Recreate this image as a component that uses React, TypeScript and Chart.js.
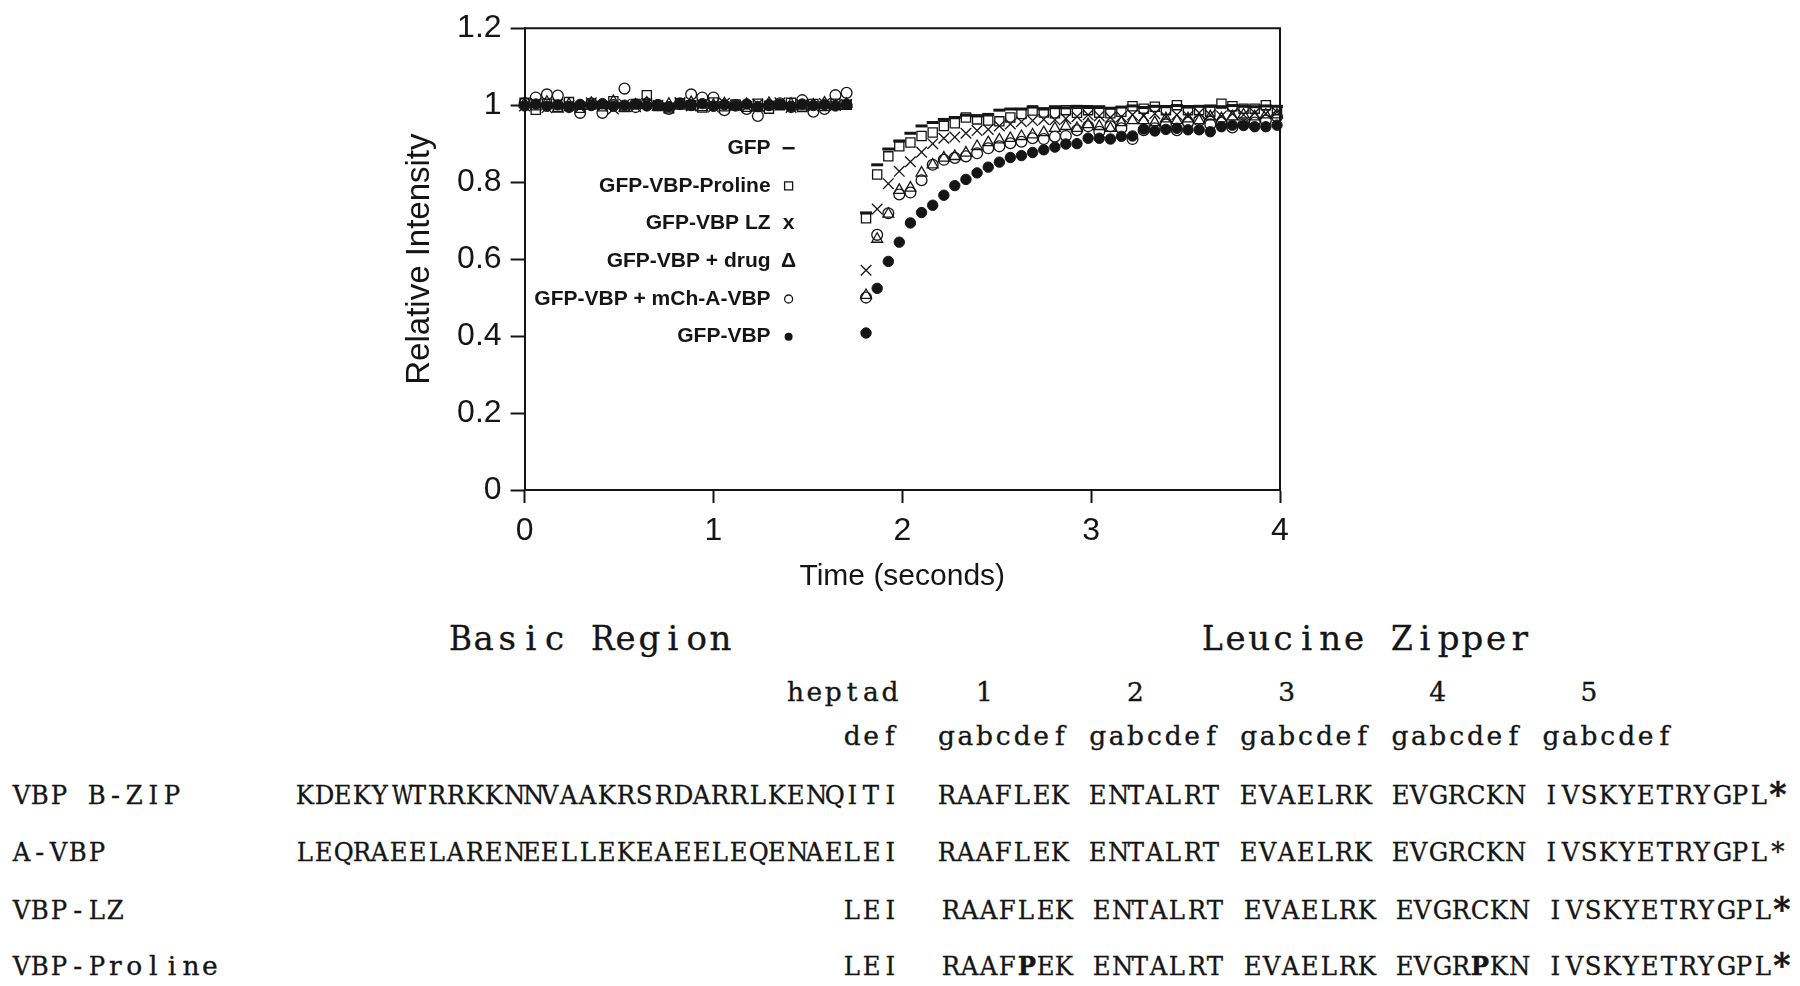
import React, { useEffect, useRef } from 'react';
import { Chart, registerables } from 'chart.js';

Chart.register(...registerables);

// ---------- chart data ----------
const timeSeconds = [
  0, 0.059, 0.118, 0.176, 0.235, 0.294, 0.353, 0.412, 0.47, 0.529, 0.588, 0.647, 0.706, 0.764, 0.823,
  0.882, 0.941, 1.0, 1.058, 1.117, 1.176, 1.235, 1.294, 1.352, 1.411, 1.47, 1.529, 1.588, 1.646, 1.705,
  1.808, 1.867, 1.926, 1.984, 2.043, 2.102, 2.161, 2.22, 2.278, 2.337, 2.396, 2.455, 2.514, 2.572, 2.631,
  2.69, 2.749, 2.808, 2.866, 2.925, 2.984, 3.043, 3.102, 3.16, 3.219, 3.278, 3.337, 3.396, 3.454, 3.513,
  3.572, 3.631, 3.69, 3.748, 3.807, 3.866, 3.925, 3.984,
];

const gfp = [
  1.0, 0.998, 1.003, 0.997, 1.002, 0.999, 1.001, 0.996, 1.003, 1.0, 0.998, 1.002, 1.004, 0.999, 0.997,
  1.001, 1.003, 0.998, 1.0, 1.002, 0.997, 1.001, 0.999, 1.003, 0.998, 1.0, 1.002, 0.999, 1.001, 1.0,
  0.72, 0.845, 0.886, 0.907, 0.927, 0.946, 0.955, 0.963, 0.968, 0.974, 0.972, 0.976, 0.987, 0.99, 0.99,
  0.995, 0.99, 0.996, 0.993, 0.997, 0.994, 0.996, 0.992, 0.995, 0.998, 0.994, 0.997, 0.996, 0.999, 0.995,
  0.997, 0.998, 0.996, 0.999, 0.997, 0.996, 0.998, 0.997,
];

const gfpVbpProline = [
  1.006, 0.988, 1.004, 0.996, 1.008, 0.993, 1.002, 0.997, 1.01, 0.995, 1.003, 1.026, 0.998, 0.992, 1.005,
  1.0, 0.994, 1.007, 0.997, 1.002, 0.996, 1.004, 0.991, 1.0, 1.006, 0.995, 1.003, 0.998, 1.004, 1.001,
  0.706, 0.82, 0.867, 0.893, 0.903, 0.92, 0.929, 0.946, 0.953, 0.968, 0.963, 0.96, 0.958, 0.968, 0.977,
  0.986, 0.981, 0.979, 0.987, 0.98, 0.987, 0.98, 0.979, 0.983, 0.997, 0.991, 0.996, 0.987, 1.0, 0.987,
  0.987, 0.983, 1.004, 0.997, 0.991, 0.991, 1.0, 0.987,
];

const gfpVbpLz = [
  0.998, 1.005, 0.993, 1.003, 0.999, 0.994, 1.006, 0.997, 0.99, 1.002, 0.996, 1.004, 1.0, 0.993, 1.007,
  0.998, 1.002, 0.995, 1.005, 0.999, 0.996, 1.003, 0.998, 1.006, 0.994, 1.001, 0.997, 1.004, 0.999, 1.002,
  0.571, 0.73, 0.796, 0.828, 0.853, 0.878, 0.9, 0.914, 0.917, 0.927, 0.934, 0.937, 0.946, 0.951, 0.957,
  0.96, 0.963, 0.962, 0.965, 0.97, 0.975, 0.972, 0.968, 0.97, 0.975, 0.972, 0.978, 0.97, 0.975, 0.972,
  0.98, 0.975, 0.972, 0.978, 0.975, 0.98, 0.978, 0.982,
];

const gfpVbpDrug = [
  1.004, 0.996, 1.008, 0.99, 1.002, 0.997, 1.005, 0.999, 1.01, 0.993, 1.001, 1.006, 0.995, 1.003, 0.998,
  1.007, 0.994, 1.0, 1.004, 0.996, 1.002, 0.993, 1.005, 0.999, 1.003, 0.996, 1.001, 1.006, 0.997, 1.003,
  0.506, 0.652, 0.717, 0.779, 0.785, 0.824, 0.845, 0.863, 0.867, 0.876, 0.893, 0.903, 0.91, 0.914, 0.919,
  0.923, 0.929, 0.94, 0.945, 0.94, 0.95, 0.945, 0.94, 0.955, 0.96, 0.96, 0.955, 0.965, 0.96, 0.965,
  0.96, 0.97, 0.965, 0.97, 0.975, 0.97, 0.975, 0.975,
];

const gfpVbpMchAVbp = [
  1.005, 1.02, 1.028, 1.025, 0.995, 0.98, 1.005, 0.98, 1.0, 1.043, 0.995, 1.005, 1.0, 0.99, 1.005,
  1.028, 1.02, 1.02, 0.987, 1.0, 0.99, 0.972, 1.0, 1.005, 0.995, 1.013, 0.983, 0.99, 1.026, 1.032,
  0.5, 0.663, 0.719, 0.768, 0.773, 0.805, 0.845, 0.858, 0.863, 0.867, 0.875, 0.888, 0.893, 0.901, 0.905,
  0.914, 0.912, 0.918, 0.92, 0.935, 0.945, 0.931, 0.945, 0.94, 0.912, 0.935, 0.94, 0.95, 0.935, 0.955,
  0.96, 0.95, 0.955, 0.942, 0.95, 0.955, 0.96, 0.97,
];

const gfpVbp = [
  0.998, 1.003, 0.997, 1.001, 0.996, 1.002, 0.999, 1.004, 0.997, 1.0, 1.003, 0.998, 1.001, 0.996, 1.002,
  0.999, 1.004, 0.997, 1.001, 0.998, 1.003, 0.996, 1.0, 1.002, 0.997, 1.003, 0.999, 1.001, 0.998, 1.002,
  0.408, 0.524, 0.594, 0.644, 0.694, 0.721, 0.74, 0.766, 0.791, 0.807, 0.824, 0.839, 0.852, 0.864, 0.869,
  0.877, 0.884, 0.891, 0.899, 0.9, 0.914, 0.914, 0.912, 0.919, 0.92, 0.938, 0.933, 0.937, 0.94, 0.936,
  0.936, 0.931, 0.944, 0.948, 0.947, 0.944, 0.944, 0.948,
];

const seriesLabels = [
  'GFP',
  'GFP-VBP-Proline',
  'GFP-VBP LZ',
  'GFP-VBP + drug',
  'GFP-VBP + mCh-A-VBP',
  'GFP-VBP',
];
const legendGlyphs = ['—', '□', 'x', 'Δ', '○', '●'];

const xTickLabels = ['0', '1', '2', '3', '4'];
const yTickLabels = ['0', '0.2', '0.4', '0.6', '0.8', '1', '1.2'];
const xAxisTitle = 'Time (seconds)';
const yAxisTitle = 'Relative Intensity';

// ---------- sequence table data ----------
const regionTitles = ['Basic Region', 'Leucine Zipper'];
const heptadNumbers = ['1', '2', '3', '4', '5'];
const heptadPositions = 'gabcdef';
const rowLabels = ['VBP B-ZIP', 'A-VBP', 'VBP-LZ', 'VBP-Proline'];
const basicSequences = [
  'KDEKYWTRRKKNNVAAKRSRDARRLKENQITI',
  'LEQRAEELARENEELLEKEAEELEQENAELEI',
  'LEI',
  'LEI',
];
const zipperSequences = [
  ['RAAFLEK', 'ENTALRT', 'EVAELRK', 'EVGRCKN', 'IVSKYETRYGPL*'],
  ['RAAFLEK', 'ENTALRT', 'EVAELRK', 'EVGRCKN', 'IVSKYETRYGPL*'],
  ['RAAFLEK', 'ENTALRT', 'EVAELRK', 'EVGRCKN', 'IVSKYETRYGPL*'],
  ['RAAFPEK', 'ENTALRT', 'EVAELRK', 'EVGRPKN', 'IVSKYETRYGPL*'],
];
const boldResidues = [[44], [], [44], [4, 28, 44]];

// ---------- chart ----------
const SANS = '"Liberation Sans", Arial, Helvetica, sans-serif';
const SERIF = '"DejaVu Serif", "Liberation Serif", serif';
const INK = '#151515';

const pts = (ys: number[]) => timeSeconds.map((t, i) => ({ x: t, y: ys[i] }));

const framePlugin = {
  id: 'frame',
  afterDraw(chart: any) {
    const { ctx, chartArea } = chart;
    ctx.save();
    ctx.strokeStyle = INK;
    ctx.lineWidth = 2;
    ctx.beginPath();
    ctx.moveTo(chartArea.left, chartArea.top);
    ctx.lineTo(chartArea.right, chartArea.top);
    ctx.lineTo(chartArea.right, chartArea.bottom);
    ctx.stroke();
    ctx.restore();
  },
};

const legendPlugin = {
  id: 'inlineLegend',
  afterDraw(chart: any) {
    const { ctx, chartArea } = chart;
    const xText = chartArea.left + 246;
    const xSym = xText + 18;
    ctx.save();
    ctx.font = `bold 21px ${SANS}`;
    ctx.fillStyle = INK;
    ctx.strokeStyle = INK;
    ctx.textBaseline = 'middle';
    seriesLabels.forEach((label, i) => {
      const y = chartArea.top + 120 + i * 37.7;
      ctx.textAlign = 'right';
      ctx.fillText(label, xText, y);
      const g = legendGlyphs[i];
      ctx.lineWidth = 1.3;
      if (g === '—') {
        ctx.lineWidth = 2.5;
        ctx.beginPath();
        ctx.moveTo(xSym - 6, y);
        ctx.lineTo(xSym + 6, y);
        ctx.stroke();
      } else if (g === '□') {
        ctx.strokeRect(xSym - 4, y - 4, 8, 8);
      } else if (g === '○') {
        ctx.beginPath();
        ctx.arc(xSym, y, 4, 0, Math.PI * 2);
        ctx.stroke();
      } else if (g === '●') {
        ctx.beginPath();
        ctx.arc(xSym, y, 4, 0, Math.PI * 2);
        ctx.fill();
      } else {
        ctx.textAlign = 'center';
        ctx.fillText(g, xSym, y);
      }
    });
    ctx.restore();
  },
};

function ChartPanel() {
  const ref = useRef<HTMLCanvasElement | null>(null);
  useEffect(() => {
    if (!ref.current) return;
    const open = 'rgba(0,0,0,0)';
    const chart = new Chart(ref.current, {
      type: 'scatter',
      data: {
        datasets: [
          { label: seriesLabels[0], data: pts(gfp), pointStyle: 'line', pointRadius: 6, borderWidth: 3, borderColor: INK, backgroundColor: INK, order: 1 },
          { label: seriesLabels[1], data: pts(gfpVbpProline), pointStyle: 'rect', pointRadius: 6.5, borderWidth: 1.3, borderColor: INK, backgroundColor: open, order: 2 },
          { label: seriesLabels[2], data: pts(gfpVbpLz), pointStyle: 'crossRot', pointRadius: 7.5, borderWidth: 1.3, borderColor: INK, backgroundColor: INK, order: 3 },
          { label: seriesLabels[3], data: pts(gfpVbpDrug), pointStyle: 'triangle', pointRadius: 6.3, borderWidth: 1.3, borderColor: INK, backgroundColor: open, order: 4 },
          { label: seriesLabels[4], data: pts(gfpVbpMchAVbp), pointStyle: 'circle', pointRadius: 5.4, borderWidth: 1.3, borderColor: INK, backgroundColor: open, order: 5 },
          { label: seriesLabels[5], data: pts(gfpVbp), pointStyle: 'circle', pointRadius: 5.2, borderWidth: 1, borderColor: INK, backgroundColor: INK, order: 0 },
        ] as any,
      },
      options: {
        responsive: false,
        devicePixelRatio: 1,
        animation: false,
        events: [],
        clip: false as any,
        layout: { padding: { left: 400, top: 24, right: 520, bottom: 0 } },
        plugins: { legend: { display: false }, tooltip: { enabled: false }, title: { display: false } },
        elements: { point: { hoverRadius: 0 } },
        scales: {
          x: {
            type: 'linear',
            min: 0,
            max: 4,
            ticks: {
              stepSize: 1,
              padding: 9,
              color: INK,
              font: { family: SANS, size: 32 },
              callback: (v: any) => xTickLabels.find((l) => Math.abs(parseFloat(l) - Number(v)) < 1e-6) ?? '',
            },
            grid: { drawOnChartArea: false, drawTicks: true, tickLength: 13, tickWidth: 2, tickColor: INK, color: INK },
            border: { display: true, color: INK, width: 2 },
            title: { display: true, text: xAxisTitle, color: INK, font: { family: SANS, size: 30 }, padding: { top: 0, bottom: 5 } },
            afterFit: (s: any) => { s.height = 110; },
          },
          y: {
            type: 'linear',
            min: 0,
            max: 1.2,
            ticks: {
              stepSize: 0.2,
              padding: 9,
              color: INK,
              font: { family: SANS, size: 32 },
              callback: (v: any) => yTickLabels.find((l) => Math.abs(parseFloat(l) - Number(v)) < 1e-6) ?? '',
            },
            grid: { drawOnChartArea: false, drawTicks: true, tickLength: 14, tickWidth: 2, tickColor: INK, color: INK },
            border: { display: true, color: INK, width: 2 },
            title: { display: true, text: yAxisTitle, color: INK, font: { family: SANS, size: 33 }, padding: { top: 0, bottom: 0 } },
            afterFit: (s: any) => { s.width = 124.6; },
          },
        },
      } as any,
      plugins: [framePlugin, legendPlugin],
    });
    return () => chart.destroy();
  }, []);
  return (
    <canvas
      ref={ref}
      width={1800}
      height={600}
      style={{ position: 'absolute', left: 0, top: 0, width: 1800, height: 600 }}
    />
  );
}

// ---------- sequence table (Courier-like fixed cells) ----------
const CELL = 18.9;
const BODY_SIZE = 26.5;
const TITLE_CELL = 23.7;
const TITLE_SIZE = 34;

function Cells(props: { text: string; cell: number; bold?: number[] }) {
  const { text, cell, bold = [] } = props;
  return (
    <>
      {Array.from(text).map((ch, i) => {
        const isBold = bold.includes(i);
        const upper = ch >= 'A' && ch <= 'Z';
        const squeeze = upper ? (ch === 'W' || ch === 'M' ? 0.78 : 0.92) : 1;
        return (
          <span
            key={i}
            style={{ display: 'inline-block', width: cell, textAlign: 'center', fontWeight: isBold ? 'bold' : 'normal' }}
          >
            <span
              style={{
                display: 'inline-block',
                transform: `scaleX(${squeeze})${ch === '*' && isBold ? ' scale(1.25)' : ''}`,
                transformOrigin: '50% 50%',
              }}
            >
              {ch === ' ' ? '\u00a0' : ch}
            </span>
          </span>
        );
      })}
    </>
  );
}

function Line(props: { left: number; cy: number; size: number; children: React.ReactNode }) {
  const { left, cy, size, children } = props;
  return (
    <div
      style={{
        position: 'absolute',
        left,
        top: cy - size * 0.6,
        fontFamily: SERIF,
        fontSize: size,
        lineHeight: `${size * 1.2}px`,
        whiteSpace: 'pre',
        color: INK,
        WebkitTextStroke: `0.35px ${INK}`,
      }}
    >
      {children}
    </div>
  );
}

function SequenceTable() {
  const left = 11.5;
  const heptadLine =
    ' '.repeat(41) + 'heptad' + heptadNumbers.map((n) => ' '.repeat(n === '1' ? 4 : 7) + n).join('');
  const defLine = ' '.repeat(44) + 'def  ' + heptadNumbers.map(() => heptadPositions).join(' ');
  const rowYs = [794.5, 852, 909.5, 966];
  const zipperShift = [0, 0, 4, 4];
  return (
    <>
      <Line left={448} cy={638} size={TITLE_SIZE}><Cells text={regionTitles[0]} cell={TITLE_CELL} /></Line>
      <Line left={1200} cy={638} size={TITLE_SIZE}><Cells text={regionTitles[1]} cell={TITLE_CELL} /></Line>
      <Line left={left} cy={692} size={BODY_SIZE}><Cells text={heptadLine} cell={CELL} /></Line>
      <Line left={left} cy={736} size={BODY_SIZE}><Cells text={defLine} cell={CELL} /></Line>
      {rowLabels.map((label, i) => {
        const head = label.padEnd(15) + basicSequences[i].padStart(32) + '  ';
        return (
          <Line key={label} left={left} cy={rowYs[i]} size={BODY_SIZE}>
            <Cells text={head} cell={CELL} />
            <span style={{ display: 'inline-block', marginLeft: zipperShift[i] }}>
              <Cells text={zipperSequences[i].join(' ')} cell={CELL} bold={boldResidues[i]} />
            </span>
          </Line>
        );
      })}
    </>
  );
}

export default function App() {
  return (
    <div
      style={{
        position: 'fixed',
        left: 0,
        top: 0,
        width: 1800,
        height: 986,
        background: '#ffffff',
        overflow: 'hidden',
      }}
    >
      <ChartPanel />
      <SequenceTable />
    </div>
  );
}
